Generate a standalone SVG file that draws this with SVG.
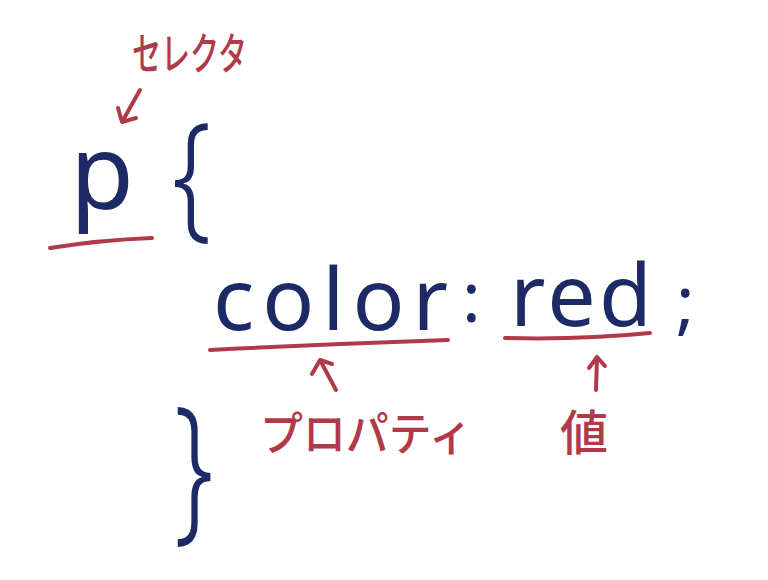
<svg xmlns="http://www.w3.org/2000/svg" width="768" height="580" viewBox="0 0 768 580">
<style>
.code{fill:#1d2a66;font-family:"Noto Sans","Liberation Sans",sans-serif}
.note{fill:#b03a4a;font-family:"Noto Sans CJK JP","Noto Sans",sans-serif;font-weight:500}
.ln{stroke:#b03a4a;stroke-width:4;fill:none;stroke-linecap:round;stroke-linejoin:round}
</style>
<rect width="768" height="580" fill="#ffffff"/>
<g id="selector-label">
<text class="note" x="132" y="70" font-size="44" textLength="115" lengthAdjust="spacingAndGlyphs">セレクタ</text>
</g>
<g id="selector">
<text class="code" x="70" y="209" font-size="104">p</text>
</g>
<g id="open-brace">
<text class="code" transform="translate(172,222) scale(1,1.25)" font-size="110" font-weight="300">{</text>
</g>
<g id="property">
<text class="code" x="213" y="330" font-size="86" textLength="235" lengthAdjust="spacing">color</text>
</g>
<g id="colon">
<text class="code" x="462" y="322" font-size="70">:</text>
</g>
<g id="value">
<text class="code" x="510" y="326" font-size="86" textLength="142" lengthAdjust="spacing">red</text>
</g>
<g id="semicolon">
<text class="code" x="676" y="326" font-size="70">;</text>
</g>
<g id="close-brace">
<text class="code" transform="translate(174,522) scale(1,1.45)" font-size="110" font-weight="300">}</text>
</g>
<g id="property-label">
<text class="note" x="260" y="450" font-size="46" textLength="212" lengthAdjust="spacingAndGlyphs">プロパティ</text>
</g>
<g id="value-label">
<text class="note" x="560" y="450" font-size="48">値</text>
</g>
<g id="connectors">
<path class="ln" d="M140 90 L122 122 M118 108 L122 122 L136 118"/>
<path class="ln" d="M50 248 Q100 240 152 238"/>
<path class="ln" d="M210 350 Q330 344 448 340"/>
<path class="ln" d="M505 338 Q580 340 650 333"/>
<path class="ln" d="M336 390 L320 360 M312 374 L320 360 L332 364"/>
<path class="ln" d="M596 390 L597 357 M589 368 L597 357 L605 366"/>
</g>
</svg>
